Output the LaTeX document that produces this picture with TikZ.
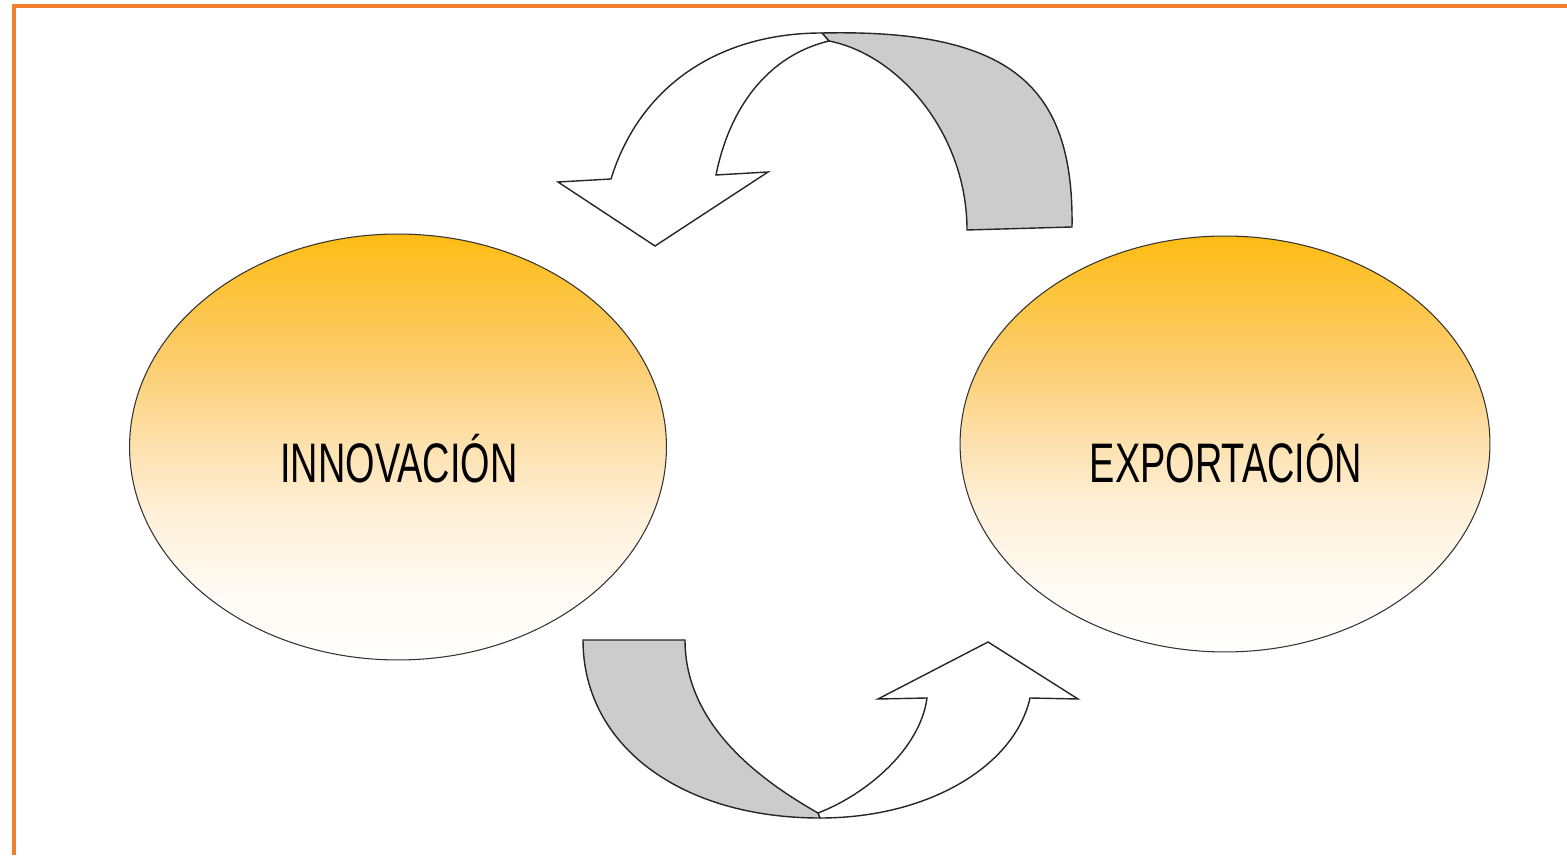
\documentclass[tikz,border=0pt]{standalone}
\usepackage{fontspec}
\setmainfont{Liberation Sans}
\newfontfamily\narrowfont{Liberation Sans}[FakeStretch=0.68]
\usetikzlibrary{shapes.geometric}

\definecolor{frameorange}{RGB}{240,128,48}
\definecolor{bubbletop}{RGB}{253,188,20}
\definecolor{bubblehigh}{RGB}{252,205,110}
\definecolor{bubblemid}{RGB}{253,225,175}
\definecolor{bubblelow}{RGB}{254,240,215}
\definecolor{bubblefade}{RGB}{255,251,245}
\definecolor{bubblebot}{RGB}{255,254,252}
\definecolor{backgray}{RGB}{204,204,204}

\pgfdeclareverticalshading{bubbleshade}{100bp}{color(0bp)=(bubblebot); color(25bp)=(bubblebot);
  color(32.5bp)=(bubblefade); color(42.5bp)=(bubblelow); color(50bp)=(bubblemid);
  color(60bp)=(bubblehigh); color(75bp)=(bubbletop); color(100bp)=(bubbletop)}

\tikzset{
  bubble/.style={ellipse, draw=black!80, line width=0.6pt, inner sep=0pt,
    shade, shading=bubbleshade},
  bubbletext/.style={font=\narrowfont\fontsize{31.7}{36}\selectfont, inner sep=0pt, anchor=base},
  flatarrow/.style={draw=black!85, line width=0.8pt, line join=miter, fill=white},
  backarrow/.style={flatarrow, fill=backgray},
}

\begin{document}
\begin{tikzpicture}[x=0.02cm, y=0.02cm]
    \useasboundingbox (0,0) rectangle (1567,855);

    % frame
    \draw[frameorange, line width=2.3pt] (14,0) -- (14,849) -- (1567,849);

    % the two ellipses
    \node[bubble, minimum width=10.74cm, minimum height=8.52cm] (innov) at (398,408) {};
    \node[bubble, minimum width=10.6cm, minimum height=8.32cm] (export) at (1225,411) {};

    \node[bubbletext] (innovtxt) at (399,372) {INNOVACIÓN};
    \node[bubbletext] (exporttxt) at (1226,372) {EXPORTACIÓN};

    % upper arrow: back side, then front side
    \draw[backarrow] (822,822) .. controls (1010,826) and (1074,770) .. (1072,628)
        -- (967,625) .. controls (967,720) and (900,800) .. (829,814) -- cycle;
    \draw[flatarrow] (829,814) -- (822,822) .. controls (720,822) and (640,770) .. (611,676)
        -- (558,673) -- (655,609) -- (768,683) -- (716,680)
        .. controls (730,750) and (770,800) .. (829,814) -- cycle;

    % lower arrow: back side, then front side
    \draw[backarrow] (583,215) -- (685,215) .. controls (685,130) and (760,75) .. (818,42)
        -- (820,37) .. controls (680,37) and (583,110) .. (583,215) -- cycle;
    \draw[flatarrow] (818,42) .. controls (865,60) and (920,105) .. (927,157)
        -- (878,156) -- (988,213) -- (1078,156) -- (1030,157)
        .. controls (1015,90) and (930,37) .. (820,37) -- cycle;
\end{tikzpicture}
\end{document}
